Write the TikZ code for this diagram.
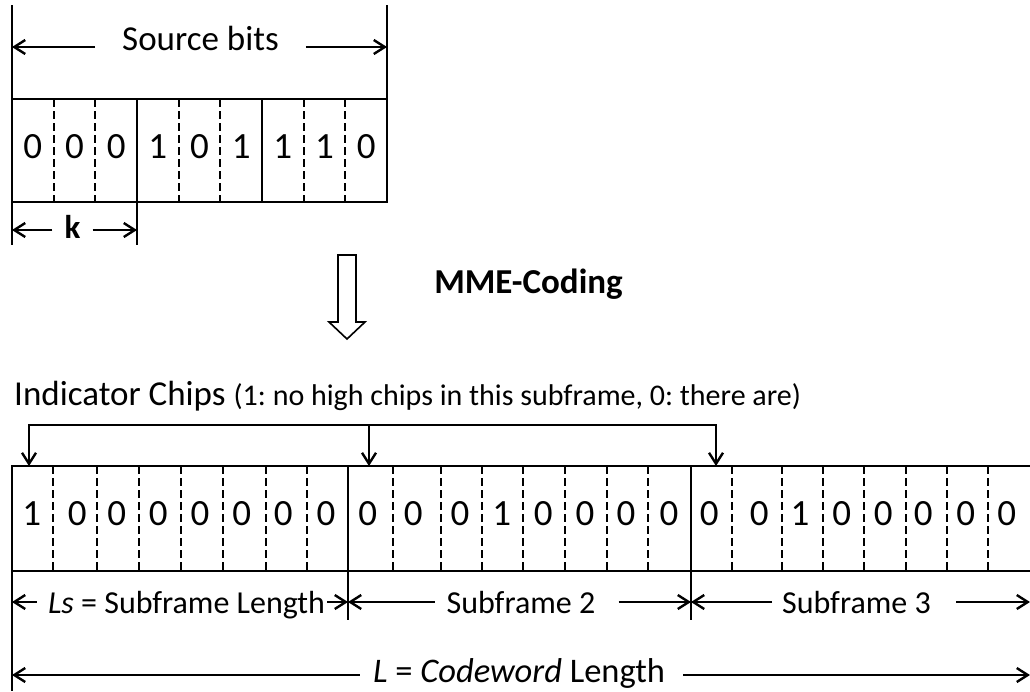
\documentclass[tikz,border=0pt]{standalone}
\usepackage{fontspec}
\setmainfont{Carlito}
\usetikzlibrary{arrows.meta}
\frenchspacing

\tikzset{
  frameline/.style={line width=2.6pt},
  chipsep/.style={line width=2.2pt, dash pattern=on 8pt off 4pt},
  barb/.tip={Straight Barb[length=11pt,width=14pt,line width=2.4pt]},
  dimarrow/.style={line width=2.6pt, -barb},
  bitlabel/.style={font=\fontsize{37}{44}\selectfont, inner sep=0pt, anchor=base},
  dimlabel/.style={font=\fontsize{32}{38}\selectfont, inner ysep=0pt, anchor=base},
}

\begin{document}
\begin{tikzpicture}[x=1pt, y=-1pt]
    \useasboundingbox (0,0) rectangle (1030,691);

    % source bits
    \coordinate (sNW) at (12,99);
    \coordinate (sNE) at (387,99);
    \coordinate (sSE) at (387,202);
    \coordinate (kE) at (137,202);
    \draw [frameline] (sNW) rectangle (sSE);
    \draw [frameline] (12,5) -- (12,245);
    \draw [frameline] (387,5) -- (sNE);
    \draw [frameline] (137,99) -- (137,245);
    \draw [frameline] (262,99) -- (262,202);
    \foreach \x in {53.7,95.3,178.7,220.3,303.7,345.3}
        \draw [chipsep] (\x,99) -- (\x,202);
    \foreach \b [count=\i] in {0,0,0,1,0,1,1,1,0}
        \node [bitlabel] (s\i) at (12+41.67*\i-20.83,158) {\b};

    \node [dimlabel, font=\fontsize{35}{42}\selectfont, inner xsep=27pt] (src) at (200.5,50) {Source bits};
    \draw [dimarrow] (src.west |- 0,47) -- (sNW |- 0,47);
    \draw [dimarrow] (src.east |- 0,47) -- (sNE |- 0,47);

    \node [dimlabel, font=\fontsize{33}{40}\selectfont\bfseries, inner xsep=12pt] (k) at (72.5,238) {k};
    \draw [dimarrow] (k.west |- 0,230) -- (sNW |- 0,230);
    \draw [dimarrow] (k.east |- 0,230) -- (kE |- 0,230);

    % coding step
    \draw [line width=1.6pt] (338,255) -- (356,255) -- (356,322) -- (365,322)
        -- (347,339) -- (329,322) -- (338,322) -- cycle;
    \node [dimlabel, font=\fontsize{35}{42}\selectfont\bfseries] (mme) at (528.5,293) {MME-Coding};

    % codeword
    \coordinate (cNW) at (12,466);
    \coordinate (cNE) at (1030,466);
    \coordinate (cSW) at (12,571);
    \coordinate (cSE) at (1030,571);
    \coordinate (sep1) at (348,466);
    \coordinate (sep2) at (691,466);
    \draw [frameline] (cNE) -- (cNW) -- (12,691);
    \draw [frameline] (cSW) -- (cSE);
    \draw [frameline] (sep1) -- (348,620);
    \draw [frameline] (sep2) -- (691,620);
    \foreach \x in {53.3,97.3,139.3,181,223.3,265.7,306.7,
                    393.3,441,482.3,523.3,565,606.7,648.3,
                    732.3,781.7,822.7,864.3,905.7,946.7,987.7}
        \draw [chipsep] (\x,466) -- (\x,571);
    \foreach \x/\b [count=\i] in {31.7/1,77.3/0,116.7/0,158.3/0,200/0,241.7/0,283.3/0,326/0,
                    367.7/0,413.3/0,460/0,501.7/1,543.3/0,585/0,626/0,669/0,
                    709.3/0,759.3/0,800/1,841.7/0,883.3/0,923.3/0,965.7/0,1006.7/0}
        \node [bitlabel] (c\i) at (\x,525) {\b};

    % indicator chips
    \node [anchor=base west, inner sep=0pt] (ind) at (14,405)
        {\fontsize{35}{42}\selectfont Indicator Chips \fontsize{30}{36}\selectfont(1: no high chips in this subframe, 0: there are)};
    \coordinate (i1) at (29,466);
    \coordinate (i2) at (369,466);
    \coordinate (i3) at (716,466);
    \draw [dimarrow] (i2 |- 0,425) -- (i2);
    \draw [line width=2.6pt, barb-barb] (i1) -- (i1 |- 0,425) -- (i3 |- 0,425) -- (i3);

    % lengths
    \node [dimlabel, inner xsep=0pt] (ls) at (186.5,613) {\textit{Ls} = Subframe Length};
    \draw [dimarrow] ([xshift=-11pt]ls.west |- 0,602) -- (cNW |- 0,602);
    \draw [dimarrow] ([xshift=2pt]ls.east |- 0,602) -- (sep1 |- 0,602);

    \node [dimlabel, inner xsep=12pt] (sf2) at (521,613) {Subframe 2};
    \draw [dimarrow] (sf2.west |- 0,602) -- (sep1 |- 0,602);
    \draw [dimarrow] ([xshift=11pt]sf2.east |- 0,602) -- (sep2 |- 0,602);

    \node [dimlabel, inner xsep=10pt] (sf3) at (856.5,613) {Subframe 3};
    \draw [dimarrow] (sf3.west |- 0,602) -- (sep2 |- 0,602);
    \draw [dimarrow] ([xshift=15pt]sf3.east |- 0,602) -- (cNE |- 0,602);

    \node [dimlabel, font=\fontsize{34.5}{41}\selectfont, inner xsep=13pt] (cw) at (519,682) {\textit{L} = \textit{Codeword} Length};
    \draw [dimarrow] (cw.west |- 0,675) -- (cNW |- 0,675);
    \draw [dimarrow] ([xshift=5pt]cw.east |- 0,675) -- (cNE |- 0,675);
\end{tikzpicture}
\end{document}
